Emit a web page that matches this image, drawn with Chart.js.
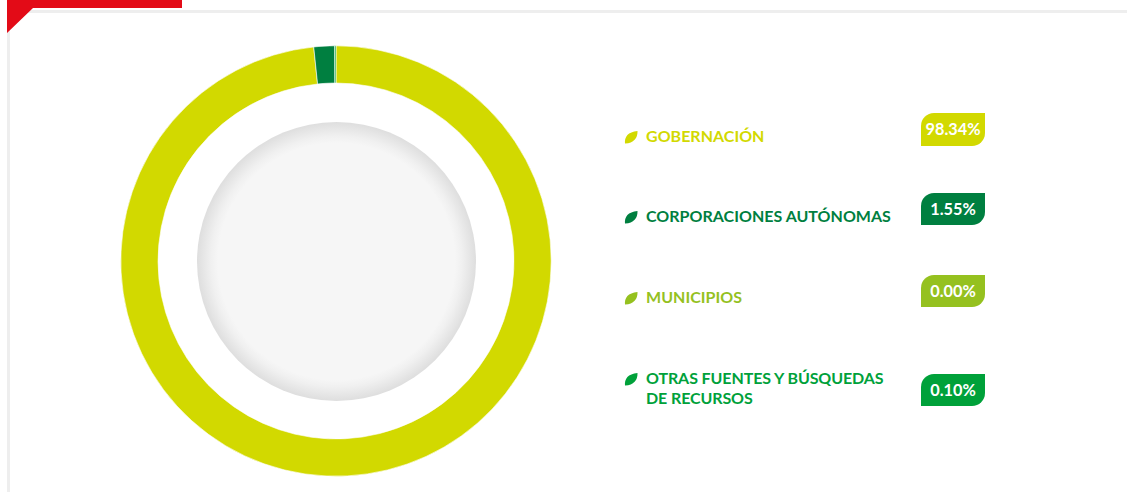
<!DOCTYPE html>
<html><head><meta charset="utf-8">
<style>
html,body{margin:0;padding:0;background:#fff;width:1127px;height:492px;overflow:hidden;font-family:Lato,sans-serif}
.abs{position:absolute}
#frameTop{left:7px;top:10px;width:1120px;height:3px;background:#eeeeee}
#frameLeft{left:7px;top:10px;width:3px;height:482px;background:#eeeeee}
#plate{left:197px;top:122px;width:279px;height:279px;border-radius:50%;background:radial-gradient(circle closest-side,#f6f6f6 0,#f6f6f6 85%,#f0f0f0 90%,#dedede 100%)}
#wrap{left:120px;top:45px;width:432px;height:432px}
.label{left:646px;font-weight:700;font-size:16px;line-height:20px;letter-spacing:.02px;white-space:nowrap}
.label.wide{letter-spacing:-.1px}
.pill{left:921px;width:64px;height:32px;border-radius:13px 0 13px 0;color:#fff;font-weight:700;font-size:16.3px;line-height:31px;text-align:center}
.pill.first{height:33px}
.leaf{left:624px;width:14px;height:14px}
</style></head><body>
<div class="abs" id="frameTop"></div><div class="abs" id="frameLeft"></div>
<svg class="abs" style="left:0;top:0" width="190" height="40"><polygon points="7,0 182,0 182,8 33,8 7,33" fill="#e30b17"/></svg>
<div class="abs" id="plate"></div>
<div class="abs" id="wrap"><canvas id="c" width="432" height="432"></canvas></div>
<div id="legend"></div>
<script src="https://cdn.jsdelivr.net/npm/chart.js@4"></script>
<script>
const categories=["GOBERNACIÓN","CORPORACIONES AUTÓNOMAS","MUNICIPIOS","OTRAS FUENTES Y BÚSQUEDAS\nDE RECURSOS"];
const values=[98.34,1.55,0.00,0.10];
const colors=["#d2d900","#007f40","#95c11f","#00a13a"];
const labelTops=[126,206,287,368];
const pillTops=[113,193,275,374];
const legend=document.getElementById('legend');
categories.forEach((cat,i)=>{
  const l=document.createElement('div');l.className='abs label'+(i===3?' wide':'');l.style.top=labelTops[i]+'px';l.style.color=colors[i];l.innerHTML=cat.replace('\n','<br>');legend.appendChild(l);
  const p=document.createElement('div');p.className='abs pill'+(i===0?' first':'');p.style.top=pillTops[i]+'px';p.style.background=colors[i];p.textContent=values[i].toFixed(2)+'%';legend.appendChild(p);
  const s=document.createElementNS('http://www.w3.org/2000/svg','svg');s.setAttribute('class','abs leaf');s.setAttribute('viewBox','0 0 14 14');s.style.top=(labelTops[i]+4)+'px';
  s.innerHTML='<path d="M1 13.5C.2 7 4 1.8 13.5 1 13.8 8 9.5 13.6 1 13.5Z" fill="'+colors[i]+'"/>';legend.appendChild(s);
});
new Chart(document.getElementById('c'),{type:'doughnut',
  data:{labels:categories,datasets:[{data:values,backgroundColor:colors,borderColor:'#ffffff',borderWidth:0.6}]},
  options:{responsive:false,animation:false,cutout:'82.7%',layout:{padding:0.5},plugins:{legend:{display:false},tooltip:{enabled:false}}}
});
</script></body></html>
